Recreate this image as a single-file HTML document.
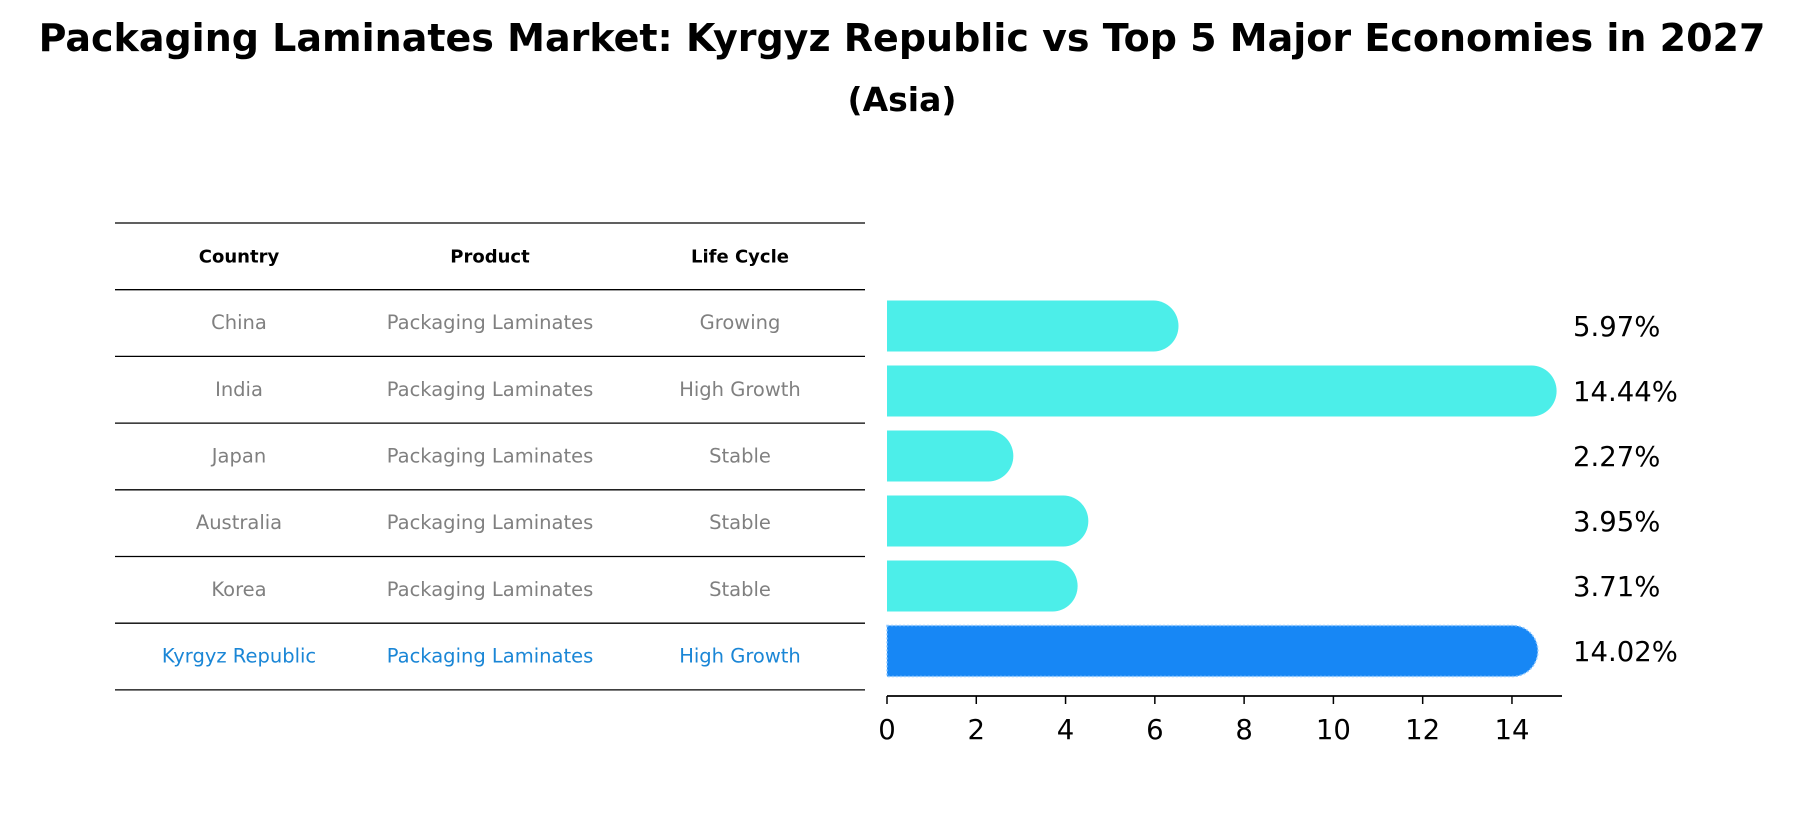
<!DOCTYPE html>
<html><head><meta charset="utf-8"><style>
body{margin:0;background:#fff}
svg text{font-family:"DejaVu Sans","Liberation Sans",sans-serif}
</style></head><body>
<svg id="chart" width="1804" height="823" viewBox="0 0 1804 823" xmlns="http://www.w3.org/2000/svg">
<text x="902" y="51" text-anchor="middle" font-size="38" font-weight="bold">Packaging Laminates Market: Kyrgyz Republic vs Top 5 Major Economies in 2027</text>
<text x="902" y="111" text-anchor="middle" font-size="33" font-weight="bold">(Asia)</text>
<g id="table"></g>
<g id="bars"></g>
</svg>
<script>
const countries=["China","India","Japan","Australia","Korea","Kyrgyz Republic"];
const products=["Packaging Laminates","Packaging Laminates","Packaging Laminates","Packaging Laminates","Packaging Laminates","Packaging Laminates"];
const lifeCycles=["Growing","High Growth","Stable","Stable","Stable","High Growth"];
const values=[5.97,14.44,2.27,3.95,3.71,14.02];
const valueLabels=["5.97%","14.44%","2.27%","3.95%","3.71%","14.02%"];
const ticks=[0,2,4,6,8,10,12,14];
const NS="http://www.w3.org/2000/svg";
function mk(tag,attrs,parent,txt){const e=document.createElementNS(NS,tag);for(const k in attrs)e.setAttribute(k,attrs[k]);if(txt!==undefined)e.textContent=txt;parent.appendChild(e);return e;}
const tbl=document.getElementById('table'),bars=document.getElementById('bars');
const rowH=66.7,top0=223,colX=[239,490,740];
for(let i=0;i<=7;i++){const y=top0+i*rowH;
 const l=mk('line',{x1:115,x2:865,y1:y,y2:y,stroke:'#000','stroke-width':1.3},tbl);
 
 }
["Country","Product","Life Cycle"].forEach((h,j)=>{
 const t=mk('text',{x:colX[j],y:top0+rowH/2+6,'text-anchor':'middle','font-size':18,'font-weight':'bold'},tbl,h);
 
 });
countries.forEach((c,i)=>{const y=top0+(i+1.5)*rowH+6;const col=i===5?'#1a86d6':'#808080';
 [c,products[i],lifeCycles[i]].forEach((v,j)=>{
  const t=mk('text',{x:colX[j],y:y,'text-anchor':'middle','font-size':19.5,fill:col},tbl,v);
  
  });});
const x0=887,ux=44.64;const xs=v=>x0+v*ux;
const centers=[326,390,454,521,586,651],bh=51,r=25;
const ys=i=>centers[0]+i*(centers[5]-centers[0])/5;
values.forEach((v,i)=>{const cy=ys(i),xe=xs(v);const fill=i===5?'#1787f5':'#4ceee9';
 const p=mk('path',{d:`M${x0},${cy-bh/2} L${xe},${cy-bh/2} A${r} ${bh/2} 0 0 1 ${xe},${cy+bh/2} L${x0},${cy+bh/2} Z`,fill:fill,stroke:i===5?'#8fc8ff':'none','stroke-dasharray':i===5?'2 2':'none','stroke-width':1.5},bars);
 
 
 const t=mk('text',{x:1573,y:cy+10,'font-size':27.5},bars,valueLabels[i]);
 
 });
const ax=mk('line',{x1:x0,x2:1562,y1:696,y2:696,stroke:'#000','stroke-width':1.8},bars);


ticks.forEach(t=>{const x=xs(t);
 const l=mk('line',{x1:x,x2:x,y1:696,y2:704,stroke:'#000','stroke-width':1.5},bars);
 
 
 const tx=mk('text',{x:x,y:739,'text-anchor':'middle','font-size':27.5},bars,String(t));
 
 });
</script>
</body></html>
